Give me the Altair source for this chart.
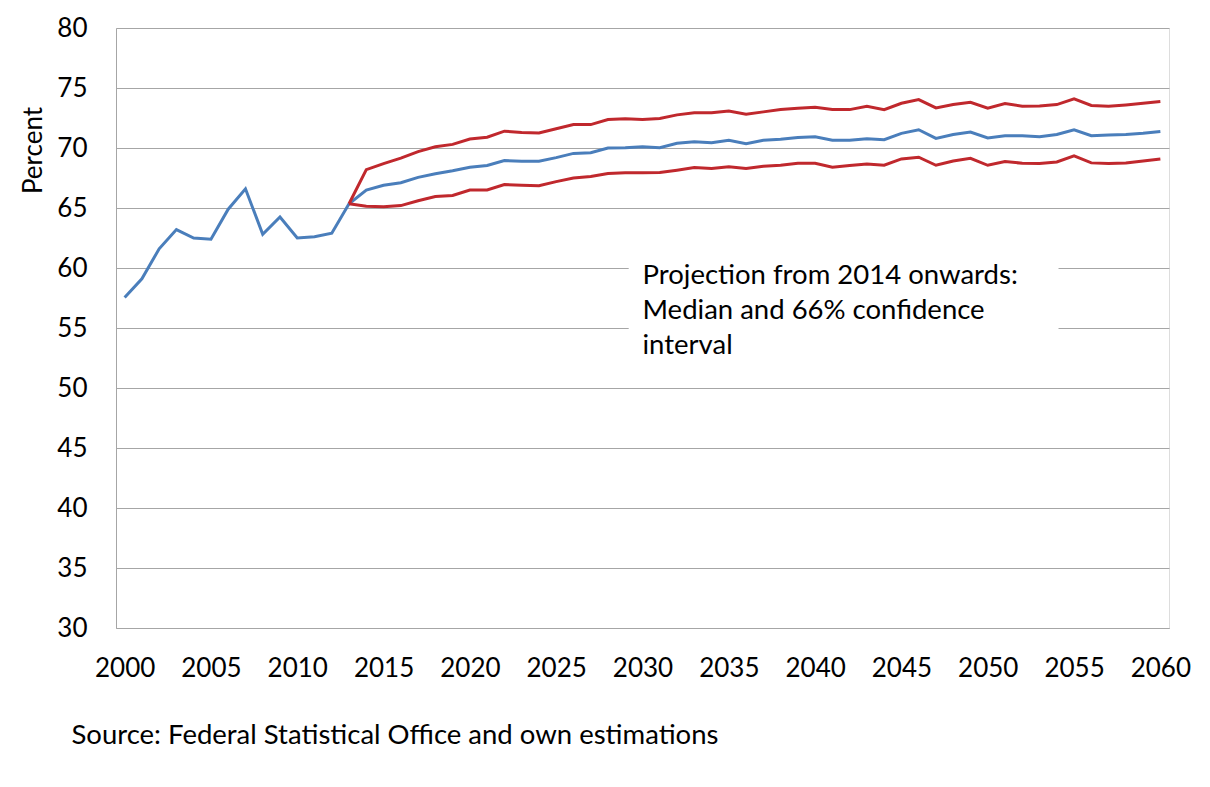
import altair as alt
import pandas as pd

# ---- data ----
years = list(range(2000, 2061))
median = [57.55, 59.1, 61.6, 63.2, 62.5, 62.4, 64.9, 66.6, 62.8, 64.25,
          62.5, 62.6, 62.9, 65.35, 66.5, 66.9, 67.1, 67.55, 67.85, 68.1,
          68.4, 68.55, 68.95, 68.9, 68.9, 69.2, 69.55, 69.6, 70.0, 70.03,
          70.11, 70.03, 70.39, 70.52, 70.44, 70.64, 70.36, 70.64, 70.72, 70.88,
          70.94, 70.64, 70.64, 70.77, 70.69, 71.22, 71.52, 70.8, 71.13, 71.33,
          70.83, 71.02, 71.02, 70.94, 71.13, 71.52, 71.02, 71.08, 71.13, 71.22,
          71.38]
band_years = list(range(2013, 2061))
upper = [65.35, 68.2, 68.7, 69.15, 69.7, 70.1, 70.3, 70.75, 70.9, 71.4,
         71.3, 71.25, 71.6, 71.95, 71.95, 72.38, 72.43, 72.38, 72.46, 72.76,
         72.93, 72.93, 73.09, 72.82, 73.01, 73.2, 73.31, 73.4, 73.2, 73.2,
         73.48, 73.2, 73.73, 74.03, 73.34, 73.62, 73.81, 73.31, 73.7, 73.48,
         73.51, 73.62, 74.09, 73.54, 73.48, 73.59, 73.73, 73.87]
lower = [65.35, 65.15, 65.1, 65.2, 65.6, 65.95, 66.05, 66.5, 66.5, 66.95,
         66.9, 66.85, 67.2, 67.5, 67.62, 67.87, 67.93, 67.93, 67.96, 68.15,
         68.37, 68.29, 68.43, 68.29, 68.48, 68.56, 68.73, 68.73, 68.4, 68.54,
         68.67, 68.56, 69.09, 69.23, 68.56, 68.92, 69.14, 68.56, 68.87, 68.73,
         68.7, 68.84, 69.34, 68.76, 68.7, 68.76, 68.92, 69.09]
series_names = ["Median", "Upper", "Lower"]
series_colors = ["#4A7EBB", "#C0282D", "#C0282D"]

x_ticks = list(range(2000, 2061, 5))
y_ticks = list(range(30, 81, 5))

note_text = "Projection from 2014 onwards:\nMedian and 66% confidence\ninterval"
note_pos = {"x": 2030.0, "y": 59.3}
note_box = {"x": 2029.2, "x2": 2054.1, "y": 62.6, "y2": 50.8}
source_text = "Source: Federal Statistical Office and own estimations"

FONT = "Lato"
GRID = "#A6A6A6"

rows = []
for y, v in zip(years, median):
    rows.append({"year": y, "value": v, "series": "Median"})
for y, v in zip(band_years, upper):
    rows.append({"year": y, "value": v, "series": "Upper"})
for y, v in zip(band_years, lower):
    rows.append({"year": y, "value": v, "series": "Lower"})
df = pd.DataFrame(rows)

x_enc = alt.X(
    "year:Q",
    scale=alt.Scale(domain=[1999.5, 2060.5], nice=False, zero=False),
    axis=alt.Axis(
        values=x_ticks, format="d", grid=False, ticks=False, tickSize=0,
        labelPadding=40, labelBaseline="middle", labelFontSize=26, labelFont=FONT,
        labelColor="#000000", domainColor=GRID, domainWidth=1,
        title=source_text, titleX=-45, titleY=107, titleAlign="left",
        titleBaseline="middle", titleFontSize=27.5, titleFont=FONT,
        titleFontWeight="normal", titleColor="#000000",
    ),
)
y_enc = alt.Y(
    "value:Q",
    scale=alt.Scale(domain=[30, 80], nice=False, zero=False),
    axis=alt.Axis(
        values=y_ticks, grid=True, gridColor=GRID, gridWidth=1, ticks=False,
        tickSize=0, labelPadding=29, labelFontSize=26, labelFont=FONT,
        labelColor="#000000", domainColor=GRID, domainWidth=1,
        title="Percent", titleX=-83, titleY=122, titleAngle=270,
        titleAlign="center", titleBaseline="middle", titleFontSize=26,
        titleFont=FONT, titleFontWeight="normal", titleColor="#000000",
    ),
)

lines = alt.Chart(df).mark_line(strokeWidth=3).encode(
    x=x_enc,
    y=y_enc,
    color=alt.Color("series:N", scale=alt.Scale(domain=series_names, range=series_colors), legend=None),
    detail="series:N",
)

box = alt.Chart(pd.DataFrame([note_box])).mark_rect(fill="white").encode(
    x="x:Q", x2="x2:Q", y="y:Q", y2="y2:Q"
)

note = alt.Chart(pd.DataFrame([{**note_pos, "t": note_text}])).mark_text(
    align="left", baseline="middle", fontSize=27.5, font=FONT, lineHeight=35,
    lineBreak="\n", color="#000000",
).encode(x="x:Q", y="y:Q", text="t:N")

chart = alt.layer(box, lines, note).properties(
    width=1053, height=600,
    autosize=alt.AutoSizeParams(type="none"),
    padding={"left": 108, "top": 20, "right": 25, "bottom": 140},
).configure_view(stroke=None).configure(background="white")

chart.save("out.html", embed_options={"renderer": "svg", "actions": False})
